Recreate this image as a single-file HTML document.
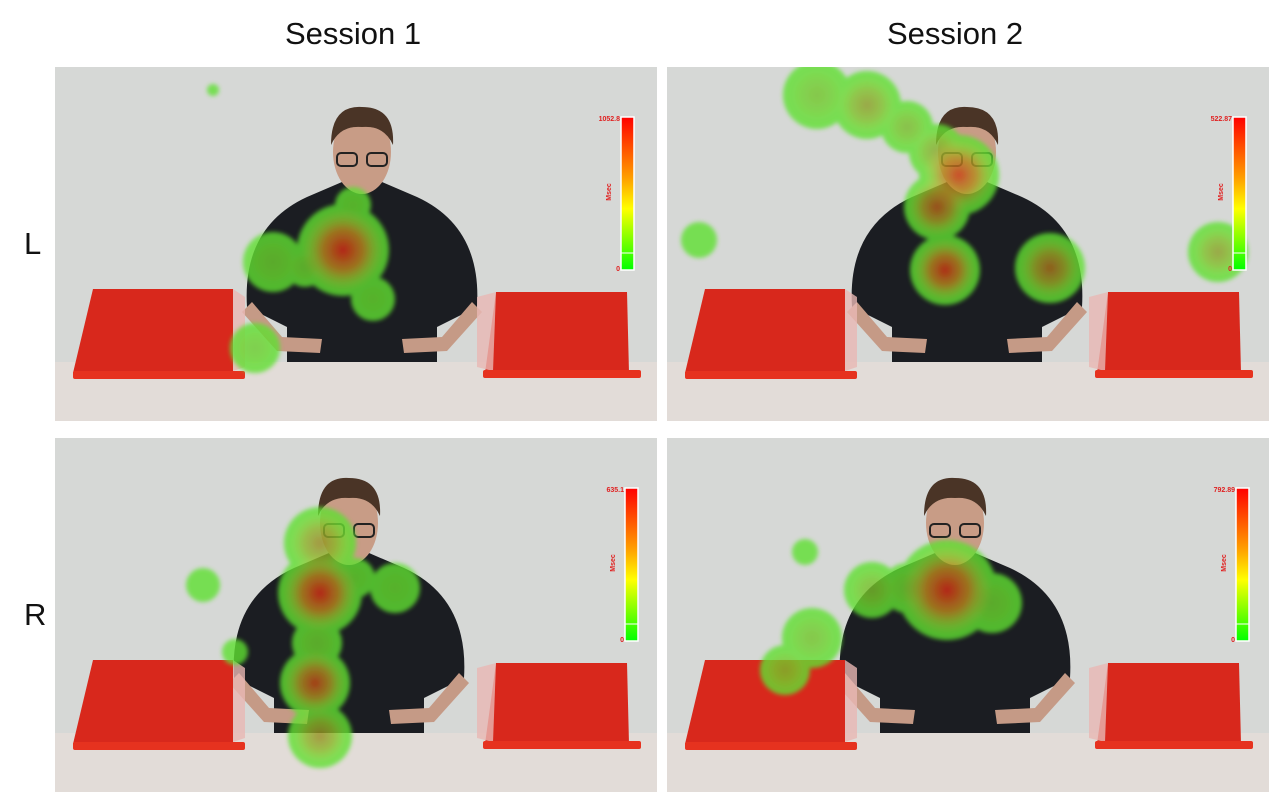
<!DOCTYPE html>
<html><head><meta charset="utf-8">
<style>
body{margin:0;width:1269px;height:792px;background:#fff;overflow:hidden;position:relative;font-family:"Liberation Sans",sans-serif}
.t{position:absolute;font-size:31px;color:#111}
svg.p{position:absolute}
</style></head><body>
<div class="t" style="left:285px;top:16px">Session 1</div>
<div class="t" style="left:887px;top:16px">Session 2</div>
<div class="t" style="left:24px;top:226px">L</div>
<div class="t" style="left:24px;top:597px">R</div>
<div id="root"></div>
<script>
const panelNames=['panel-l-session1','panel-l-session2','panel-r-session1','panel-r-session2'];
const panelX=[55,667,55,667];
const panelY=[67,67,438,438];
const personX=[307,300,294,288];
const maxLabels=['1052.8','522.87','635.1','792.89'];
const barX=[566,566,570,569];
const barY=[50,50,50,50];
// blobs: [cx, cy, r, redness]
const blobs=[
 [[158,23,6,0],[288,183,46,0.95],[218,195,30,0.1],[318,232,22,0.05],[298,138,18,0.05],[250,200,20,0.1],[200,281,25,0.1]],
 [[150,28,34,0.15],[200,38,34,0.35],[240,60,26,0.2],[270,85,28,0.3],[292,108,40,0.85],[270,140,33,0.7],[278,203,35,0.9],[383,201,35,0.6],[32,173,18,0],[551,185,30,0.35]],
 [[265,105,36,0.45],[265,155,42,0.95],[340,150,25,0.05],[300,140,20,0.05],[262,205,25,0.1],[260,245,35,0.8],[265,298,32,0.45],[148,147,17,0],[180,214,13,0]],
 [[138,114,13,0],[280,152,50,0.95],[205,152,28,0.2],[240,150,25,0.1],[145,200,30,0.15],[118,232,25,0.2],[325,165,30,0.1]]
];
const NS='http://www.w3.org/2000/svg';
const root=document.getElementById('root');
function el(tag,attrs,parent){const e=document.createElementNS(NS,tag);for(const k in attrs)e.setAttribute(k,attrs[k]);parent.appendChild(e);return e;}
for(let i=0;i<4;i++){
 const s=document.createElementNS(NS,'svg');
 
 
 s.setAttribute('class','p');s.setAttribute('width',602);s.setAttribute('height',354);
 s.style.left=panelX[i]+'px';s.style.top=panelY[i]+'px';
 root.appendChild(s);
 const d=el('defs',{},s);
 const f=el('filter',{id:'bl'+i},d);
 el('feGaussianBlur',{stdDeviation:2},f);
 const g=el('radialGradient',{id:'rg'+i},d);
 el('stop',{offset:'0','stop-color':'#e01810'},g);
 el('stop',{offset:'0.5','stop-color':'#e06a18','stop-opacity':'0.75'},g);
 el('stop',{offset:'1','stop-color':'#d0e040','stop-opacity':'0'},g);
 const cb=el('linearGradient',{id:'cb'+i,x1:0,y1:0,x2:0,y2:1},d);
 [['0','#ff0000'],['0.4','#ffa000'],['0.6','#ffff00'],['1','#00ff00']].forEach(a=>el('stop',{offset:a[0],'stop-color':a[1]},cb));
 const px=personX[i];
 el('rect',{x:0,y:0,width:602,height:354,fill:'#d6d8d6'},s);
 el('rect',{x:0,y:295,width:602,height:59,fill:'#e2dcd8'},s);
 const person=el('g',{},s);
 
 
 el('path',{d:`M${px-75} 295 L${px-75} 260 L${px-115} 240 Q${px-120} 160 ${px-55} 130 L${px-20} 115 L${px+20} 115 L${px+55} 130 Q${px+120} 160 ${px+115} 240 L${px+75} 260 L${px+75} 295 Z`,fill:'#1b1d22'},person);
 el('path',{d:`M${px-110} 235 L${px-80} 270 L${px-40} 272 L${px-42} 286 L${px-85} 284 L${px-120} 245 Z`,fill:'#c59a86'},person);
 el('path',{d:`M${px+110} 235 L${px+80} 270 L${px+40} 272 L${px+42} 286 L${px+85} 284 L${px+120} 245 Z`,fill:'#c59a86'},person);
 el('ellipse',{cx:px,cy:85,rx:29,ry:42,fill:'#c89c86'},person);
 el('path',{d:`M${px-31} 78 Q${px-31} 38 ${px} 40 Q${px+33} 40 ${px+31} 78 Q${px+22} 58 ${px} 60 Q${px-22} 58 ${px-31} 78Z`,fill:'#4a3426'},person);
 el('rect',{x:px-25,y:86,width:20,height:13,rx:4,fill:'none',stroke:'#222','stroke-width':2},person);
 el('rect',{x:px+5,y:86,width:20,height:13,rx:4,fill:'none',stroke:'#222','stroke-width':2},person);
 const lb=el('path',{d:'M38 222 L178 222 L178 306 L18 306 Z',fill:'#d8281c'},s);
 
 el('path',{d:'M178 222 L190 230 L190 300 L178 304 Z',fill:'#e8b8b4',opacity:0.8},s);
 el('rect',{x:18,y:304,width:172,height:8,rx:2,fill:'#e6321f'},s);
 const rb=el('path',{d:'M441 225 L572 225 L574 306 L430 306 Z',fill:'#d8281c'},s);
 
 el('path',{d:'M422 230 L441 225 L438 304 L422 300 Z',fill:'#e8b8b4',opacity:0.8},s);
 el('rect',{x:428,y:303,width:158,height:8,rx:2,fill:'#e6321f'},s);
 const hm=el('g',{opacity:0.8,filter:`url(#bl${i})`},s);
 
 
 const gg=el('g',{},hm);
 blobs[i].forEach(b=>{const c=el('circle',{cx:b[0],cy:b[1],r:b[2],fill:'#5fe030'},gg);});
 blobs[i].forEach(b=>{if(b[3]>0){el('circle',{cx:b[0],cy:b[1],r:b[2]*0.9,fill:`url(#rg${i})`,opacity:b[3]},hm);}});
 const bx=barX[i],by=barY[i];
 const bar=el('rect',{x:bx,y:by,width:13,height:153,fill:`url(#cb${i})`,stroke:'#fff','stroke-width':1.5},s);
 
 el('line',{x1:bx,y1:by+136,x2:bx+13,y2:by+136,stroke:'#fff','stroke-width':1},s);
 const t1=el('text',{x:bx-1,y:by+4,'text-anchor':'end','font-size':7,'font-weight':'bold',fill:'#e02020','font-family':'Liberation Sans,sans-serif'},s);
 t1.textContent=maxLabels[i];
 const t0=el('text',{x:bx-1,y:by+154,'text-anchor':'end','font-size':7,'font-weight':'bold',fill:'#e02020','font-family':'Liberation Sans,sans-serif'},s);
 t0.textContent='0';
 const tm=el('text',{x:0,y:0,'text-anchor':'middle','font-size':7,'font-weight':'bold',fill:'#e02020','font-family':'Liberation Sans,sans-serif',transform:`translate(${bx-10},${by+75}) rotate(-90)`},s);
 tm.textContent='Msec';
}
</script>
</body></html>
